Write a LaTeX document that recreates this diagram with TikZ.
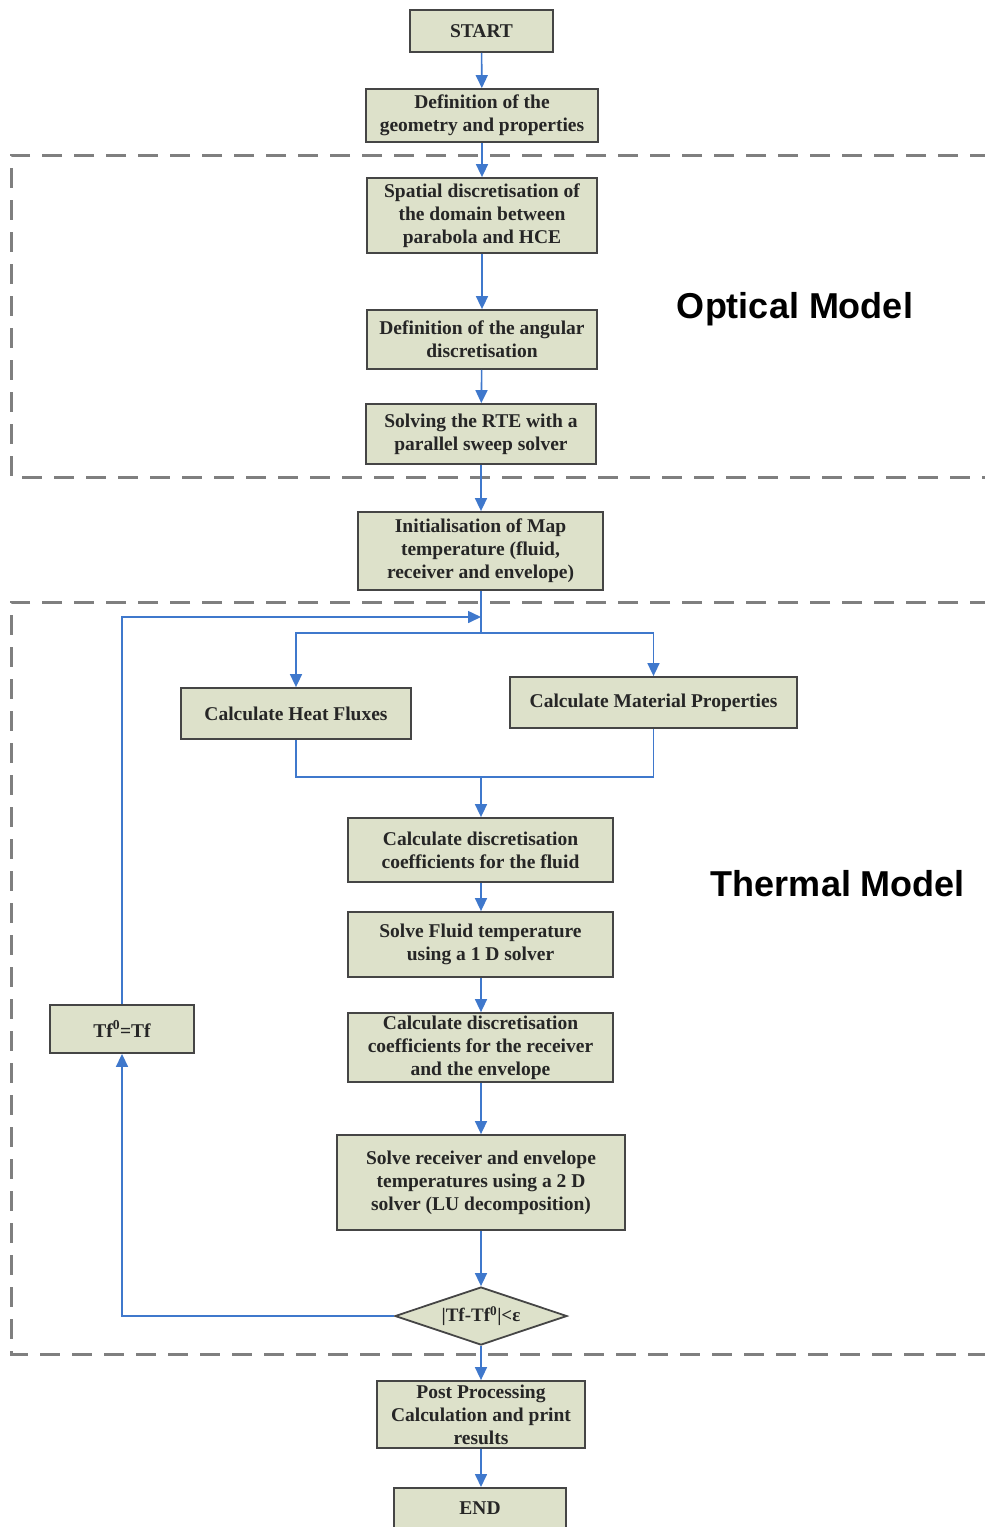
\documentclass[tikz,border=0pt]{standalone}
\usepackage{fontspec}
\setmainfont{Liberation Serif}
\newfontfamily\labelfont{Liberation Sans}
\usetikzlibrary{arrows.meta,shapes.geometric}
\definecolor{boxfill}{HTML}{DDE1CA}
\definecolor{boxline}{HTML}{454545}
\definecolor{flow}{HTML}{3F78CC}
\definecolor{dashgray}{HTML}{7F7F7F}
\tikzset{
  stepbox/.style={draw=boxline, fill=boxfill, line width=1.8pt, align=center, inner sep=0pt,
    font=\bfseries\fontsize{19.5}{23}\selectfont, text=black!85},
  decide/.style={diamond, draw=boxline, fill=boxfill, line width=1.8pt, inner sep=0pt,
    font=\bfseries\fontsize{19}{20}\selectfont, text=black!85},
  flowline/.style={draw=flow, line width=1.6pt},
  flowarrow/.style={flowline, -{Triangle[width=12pt,length=13pt]}},
  region/.style={draw=dashgray, line width=3pt, dash pattern=on 20pt off 12pt},
  modellabel/.style={font=\labelfont\bfseries\fontsize{36}{40}\selectfont, inner sep=0pt}
}
\begin{document}
\begin{tikzpicture}[x=1pt,y=-1pt]
\useasboundingbox (0,0) rectangle (985,1527);
\begin{scope}
\clip (0,0) rectangle (985,1527);
% dashed regions
\draw[region] (990,155) -- (11,155) -- (11,477) -- (990,477);
\draw[region] (990,602) -- (11,602) -- (11,1354) -- (990,1354);

% nodes
\node[stepbox, minimum width=143pt, minimum height=42pt] (start) at (481.5,31) {START};
\node[stepbox, minimum width=232pt, minimum height=53pt] (geom) at (482,115.5) {Definition of the\\geometry and properties};
\node[stepbox, minimum width=230pt, minimum height=75pt] (spatial) at (482,215.5) {Spatial discretisation of\\the domain between\\parabola and HCE};
\node[stepbox, minimum width=230pt, minimum height=59pt] (angular) at (482,339.5) {Definition of the angular\\discretisation};
\node[stepbox, minimum width=230pt, minimum height=60pt] (rte) at (481,434) {Solving the RTE with a\\parallel sweep solver};
\node[stepbox, minimum width=245pt, minimum height=78pt] (init) at (480.5,551) {Initialisation of Map\\temperature (fluid,\\receiver and envelope)};
\node[stepbox, minimum width=230pt, minimum height=51pt] (heat) at (296,713.5) {Calculate Heat Fluxes};
\node[stepbox, minimum width=287pt, minimum height=51pt] (mat) at (653.5,702.5) {Calculate Material Properties};
\node[stepbox, minimum width=265pt, minimum height=64pt] (fluid) at (480.5,850) {Calculate discretisation\\coefficients for the fluid};
\node[stepbox, minimum width=265pt, minimum height=65pt] (solvefl) at (480.5,944.5) {Solve Fluid temperature\\using a 1 D solver};
\node[stepbox, minimum width=265pt, minimum height=69pt] (recv) at (480.5,1047.5) {Calculate discretisation\\coefficients for the receiver\\and the envelope};
\node[stepbox, minimum width=288pt, minimum height=95pt] (solverecv) at (481,1182.5) {Solve receiver and envelope\\temperatures using a 2 D\\solver (LU decomposition)};
\node[decide, minimum width=172pt, minimum height=58pt, aspect=2.97] (check) at (481,1316) {|Tf-Tf\textsuperscript{0}|<ε};
\node[stepbox, minimum width=144pt, minimum height=48pt] (tf) at (122,1029) {Tf\textsuperscript{0}=Tf};
\node[stepbox, minimum width=208pt, minimum height=67pt] (post) at (481,1414.5) {Post Processing\\Calculation and print\\results};
\node[stepbox, minimum width=172pt, minimum height=46pt, anchor=north] (end) at (480,1487) {\raisebox{6pt}{END}};

% labels
\node[modellabel] (optlabel) at (795,309) {Optical Model};
\node[modellabel] (thermlabel) at (838,884) {Thermal Model};

% junction coordinates
\coordinate (loopin) at (481,617);
\coordinate (split) at (481,633);
\coordinate (merge) at (481,777);

% connectors
\draw[flowarrow] (start) -- (geom);
\draw[flowarrow] (geom) -- (spatial);
\draw[flowarrow] (spatial) -- (angular);
\draw[flowarrow] (angular) -- (rte);
\draw[flowarrow] (rte.south) -- (init.north -| rte.south);
\draw[flowline] (init.south -| split) -- (split);
\draw[flowarrow] (split) -| (heat.north);
\draw[flowarrow] (split) -| (mat.north);
\draw[flowline] (heat.south) |- (merge);
\draw[flowline] (mat.south) |- (merge);
\draw[flowarrow] (merge) -- (fluid.north -| merge);
\draw[flowarrow] (fluid.south -| merge) -- (solvefl.north -| merge);
\draw[flowarrow] (solvefl.south -| merge) -- (recv.north -| merge);
\draw[flowarrow] (recv.south -| merge) -- (solverecv.north -| merge);
\draw[flowarrow] (solverecv.south -| merge) -- (check.north);
\draw[flowarrow] (check.south) -- (post.north);
\draw[flowarrow] (post.south) -- (end.north -| post.south);
\draw[flowarrow] (check.west) -| (tf.south);
\draw[flowarrow] (tf.north) |- (loopin);
\end{scope}
\end{tikzpicture}
\end{document}
